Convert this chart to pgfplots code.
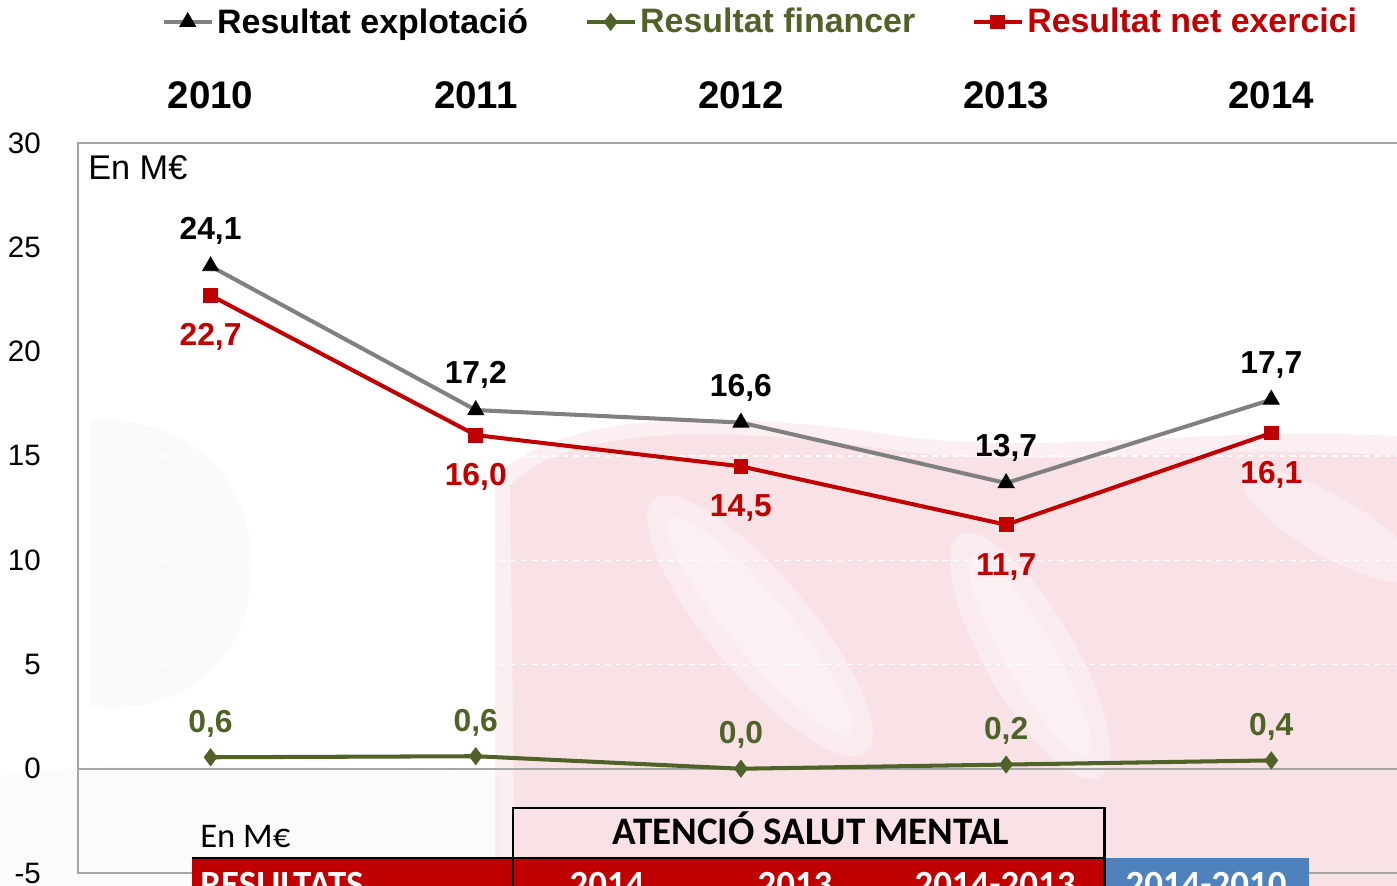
\documentclass[border=0pt]{standalone}
\usepackage{pgfplots}
\pgfplotsset{compat=1.18}
\usepackage{fontspec}
\setmainfont{Liberation Sans}
\newfontfamily\carlito{Carlito}
\definecolor{netred}{HTML}{C00000}
\definecolor{fingreen}{HTML}{4F6228}
\definecolor{expgray}{HTML}{808080}
\definecolor{tblue}{HTML}{4F81BD}
\definecolor{wmpink}{HTML}{F4D0D6}
\definecolor{wmgray}{HTML}{EEEEEE}
\definecolor{axgray}{HTML}{A6A6A6}
\begin{document}
\begin{tikzpicture}[x=0.02cm,y=0.02cm]
\useasboundingbox (0,0) rectangle (1397,886);
\clip (0,0) rectangle (1397,886);
% faint watermark (pixel coords, y flipped)
\fill[wmgray, opacity=0.3] (90,466) .. controls (200,470) and (260,400) .. (250,300) .. controls (240,200) and (150,170) .. (90,180) -- cycle;
\fill[wmgray, opacity=0.25] (0,110) .. controls (150,130) and (350,120) .. (500,110) -- (500,0) -- (0,0) -- cycle;
\fill[wmpink, opacity=0.35] (495,410) .. controls (560,470) and (700,480) .. (900,450) .. controls (1050,430) and (1200,460) .. (1397,450) -- (1397,0) -- (495,0) -- cycle;
\fill[wmpink, opacity=0.4] (510,400) .. controls (560,455) and (700,465) .. (900,435) .. controls (1050,415) and (1200,445) .. (1397,430) -- (1397,0) -- (515,0) -- cycle;
\fill[white, opacity=0.3, rotate around={-50:(760,260)}] (760,260) ellipse (165 and 50);
\fill[white, opacity=0.3, rotate around={-50:(760,260)}] (760,260) ellipse (140 and 30);
\fill[white, opacity=0.3, rotate around={-60:(1030,230)}] (1030,230) ellipse (140 and 45);
\fill[white, opacity=0.3, rotate around={-60:(1030,230)}] (1030,230) ellipse (115 and 25);
\fill[white, opacity=0.3, rotate around={-30:(1330,360)}] (1330,360) ellipse (100 and 30);
\begin{axis}[
  at={(1.56cm,0.26cm)}, anchor=south west, scale only axis,
  width=26.47cm, height=14.6cm,
  xmin=-0.5, xmax=4.49, ymin=-5, ymax=30,
  axis line style={draw=axgray, line width=1pt},
  major tick length=0pt,
  xtick={0,1,2,3,4}, xticklabels={2010,2011,2012,2013,2014},
  xticklabel pos=upper,
  xticklabel style={font=\fontsize{21.9}{26}\bfseries, anchor=base, yshift=0.7cm},
  ytick={-5,0,5,10,15,20,25,30},
  yticklabels={-5,0,5,10,15,20,25,30},
  yticklabel style={font=\fontsize{16.8}{20}\selectfont, anchor=east, xshift=-0.62cm},
  ymajorgrids, major grid style={white, dashed, line width=0.8pt},
  clip=false,
  legend columns=3,
  legend style={at={(axis description cs:0.5163,1.166)}, anchor=center, draw=none, fill=none,
    font=\fontsize{19.3}{23}\bfseries,
    nodes={inner xsep=0.07cm},
    /tikz/every even column/.append style={column sep=1.06cm}},
  legend image code/.code={\draw[mark repeat=2,mark phase=2,#1] plot coordinates {(0cm,0cm) (0.48cm,0cm) (0.96cm,0cm)};},
]
\draw[axgray, line width=1pt] (axis cs:-0.5,0) -- (axis cs:4.49,0);
\addplot[expgray, line width=2.3pt, mark=triangle*, mark size=5.2pt, mark options={black, fill=black, line width=0.5pt, solid},
  nodes near coords, point meta=explicit symbolic,
  every node near coord/.append style={font=\fontsize{18.1}{22}\bfseries, text=black, anchor=base, yshift=0.53cm}]
  coordinates {(0,24.1)[24,1] (1,17.2)[17,2] (2,16.6)[16,6] (3,13.7)[13,7] (4,17.7)[17,7]};
\addlegendentry{Resultat explotació}
\addplot[fingreen, line width=2.3pt, mark=diamond*, mark size=4.8pt, mark options={fingreen, fill=fingreen, line width=0.5pt, solid},
  nodes near coords, point meta=explicit symbolic,
  every node near coord/.append style={font=\fontsize{18.1}{22}\bfseries, text=fingreen, anchor=base, yshift=0.5cm}]
  coordinates {(0,0.55)[0,6] (1,0.6)[0,6] (2,0.0)[0,0] (3,0.2)[0,2] (4,0.4)[0,4]};
\addlegendentry{\textcolor{fingreen}{Resultat financer}}
\addplot[netred, line width=2.3pt, mark=square*, mark size=3.9pt, mark options={netred, fill=netred, line width=0.5pt, solid},
  nodes near coords, point meta=explicit symbolic,
  every node near coord/.append style={font=\fontsize{18.1}{22}\bfseries, text=netred, anchor=base, yshift=-1.01cm}]
  coordinates {(0,22.7)[22,7] (1,16.0)[16,0] (2,14.5)[14,5] (3,11.7)[11,7] (4,16.1)[16,1]};
\addlegendentry{\textcolor{netred}{Resultat net exercici}}
\end{axis}
% top-left unit label
\node[anchor=base west, inner sep=0pt, font=\fontsize{19.5}{23}\selectfont] at (88,706) {En M€};
% partial table at bottom
\fill[netred] (192,28) rectangle (1104,-20);
\fill[tblue] (1104,28) rectangle (1309,-20);
\draw[black, line width=1.7pt] (192,28) -- (1104,28);
\draw[black, line width=1.7pt] (513,-20) -- (513,78) -- (1104,78) -- (1104,-20);
\node[anchor=base, inner sep=0pt, font=\carlito\fontsize{22.2}{26}\bfseries] at (811,41) {ATENCIÓ SALUT MENTAL};
\node[anchor=base west, inner sep=0pt, font=\carlito\fontsize{19.7}{23}\selectfont] at (200,38) {En M€};
\begin{scope}[every node/.style={inner sep=0pt, text=white, font=\carlito\fontsize{21}{25}\bfseries}]
\node[anchor=base west] at (200,-11) {RESULTATS};
\node[anchor=base] at (607,-11) {2014};
\node[anchor=base] at (795,-11) {2013};
\node[anchor=base] at (995,-11) {2014-2013};
\node[anchor=base] at (1206,-11) {2014-2010};
\end{scope}
\end{tikzpicture}
\end{document}
